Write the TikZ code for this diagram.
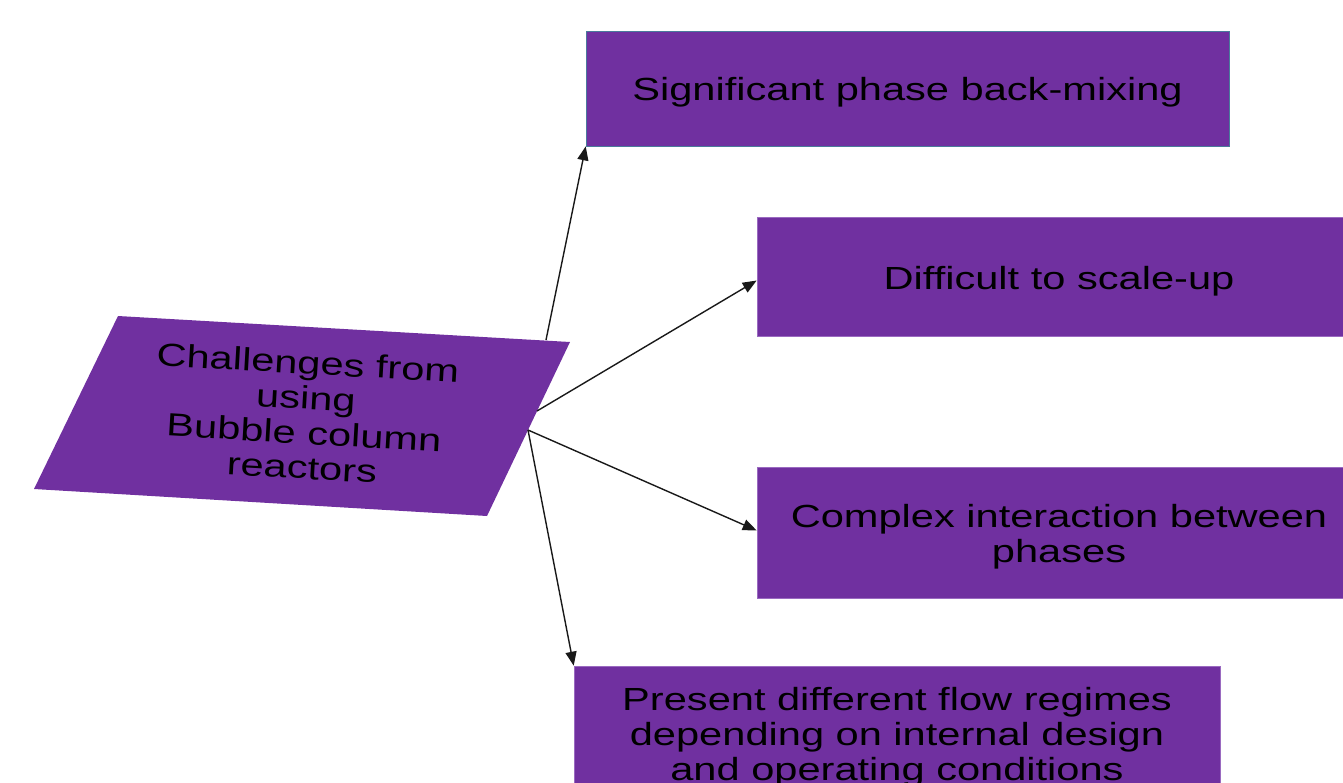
\documentclass[tikz,border=0pt]{standalone}
\usepackage{fontspec}
\setmainfont{Liberation Sans}
\newfontfamily\widefont[FakeStretch=1.3]{Liberation Sans}
\usetikzlibrary{arrows.meta,calc}
\definecolor{boxpurple}{HTML}{7030A0}
\definecolor{edgeblue}{HTML}{4A7A9C}
\definecolor{edgepurple}{HTML}{9A6AC0}
\tikzset{
  box/.style={fill=boxpurple, draw=edgepurple, line width=0.6pt, inner sep=0pt},
  txt/.style={align=center, inner sep=0pt, text=black, font=\widefont\fontsize{32}{35}\selectfont},
  para/.style={fill=boxpurple, draw=none},
  link/.style={draw=black!90, line width=1.4pt, -{Triangle[length=14pt,width=11pt]}}
}
\begin{document}
\begin{tikzpicture}[x=1pt,y=-1pt]
\useasboundingbox (0,0) rectangle (1343,782);
\clip (0,0) rectangle (1343,782);
% central parallelogram
\coordinate (p1) at (118,316);
\coordinate (p2) at (570,342);
\coordinate (p3) at (487,516);
\coordinate (p4) at (34,489);
\fill[para] (p1) -- (p2) -- (p3) -- (p4) -- cycle;
\node[txt, rotate=-3.3] (chal) at (305,415)
  {Challenges from\\using\\Bubble column\\reactors};
% boxes
\node[box, draw=edgeblue, minimum width=643pt, minimum height=115pt] (b1) at (907.5,88.5) {};
\node[box, minimum width=604pt, minimum height=119pt] (b2) at (1059,276.5) {};
\node[box, minimum width=604pt, minimum height=131pt] (b3) at (1059,532.5) {};
\node[box, minimum width=646pt, minimum height=134pt] (b4) at (897,733) {};
% texts
\node[txt] (t1) at ($(b1.center)+(0,4)$) {Significant phase back-mixing};
\node[txt] (t2) at ($(b2.center)+(0,5)$) {Difficult to scale-up};
\node[txt] (t3) at ($(b3.center)+(0,4)$) {Complex interaction between\\phases};
\node[txt] (t4) at ($(b4.center)+(0,4)$) {Present different flow regimes\\depending on internal design\\and operating conditions};
% connector start points on the parallelogram
\coordinate (s1) at (546,340);
\coordinate (s2) at (537,411);
\coordinate (s3) at (528,430);
% connectors
\draw[link] (s1) -- (b1.south west);
\draw[link] (s2) -- ($(b2.west)+(0,4)$);
\draw[link] (s3) -- ($(b3.west)+(0,-2)$);
\draw[link] (s3) -- (b4.north west);
\end{tikzpicture}
\end{document}
